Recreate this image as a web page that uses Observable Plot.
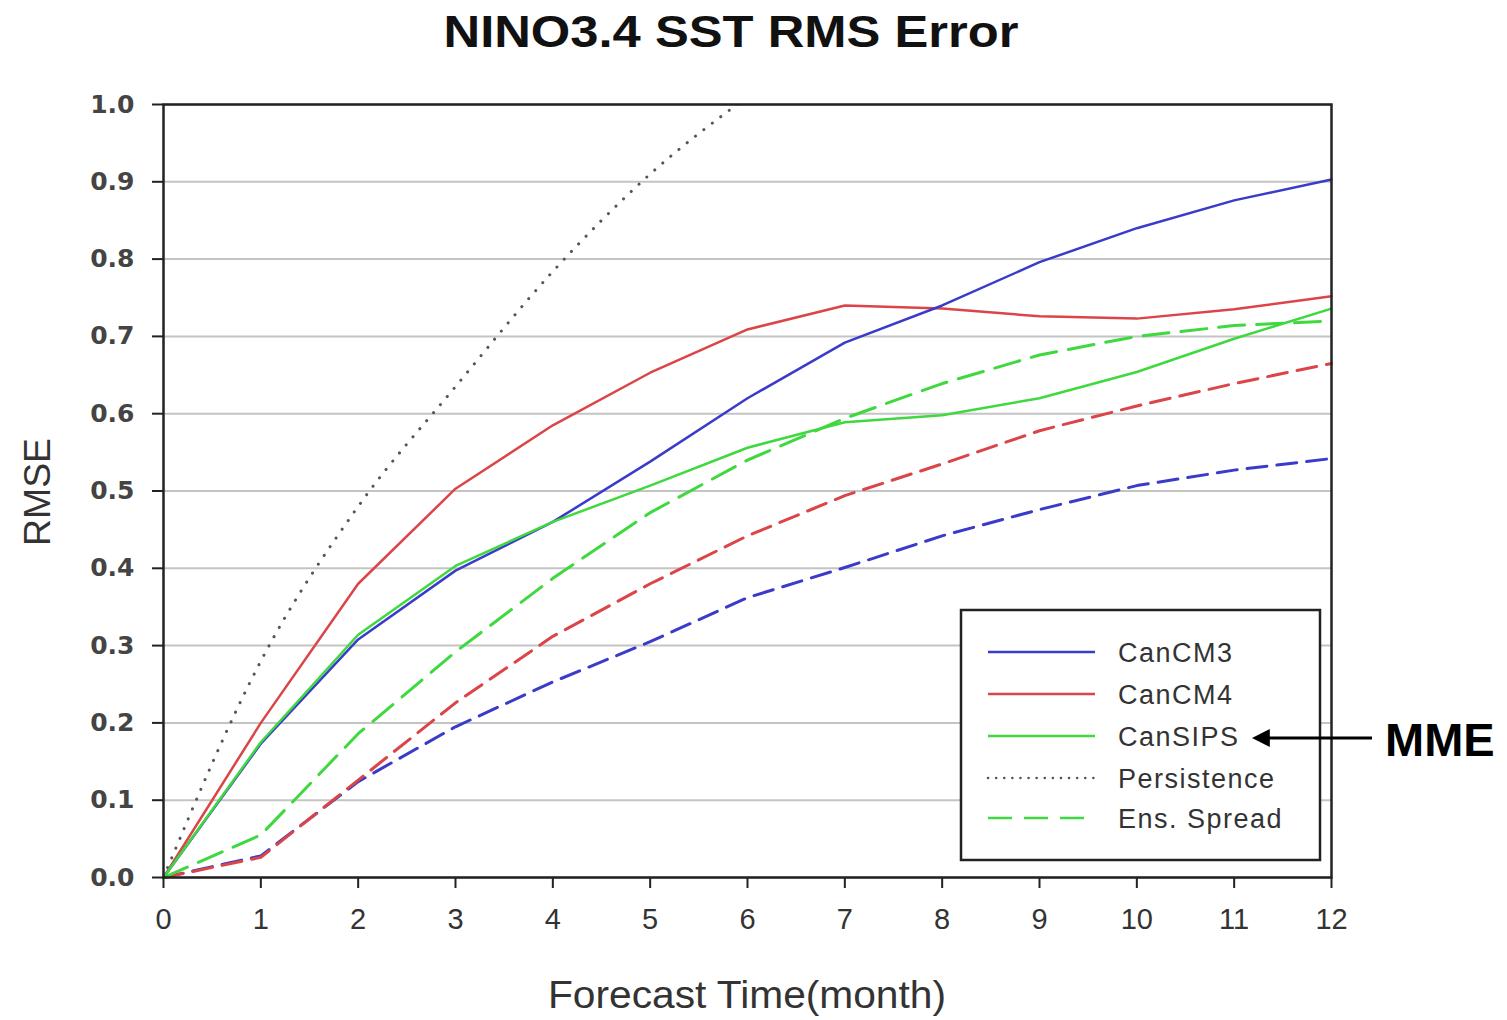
<!DOCTYPE html>
<html><head><meta charset="utf-8">
<script src="https://cdn.jsdelivr.net/npm/d3@7"></script>
<script src="https://cdn.jsdelivr.net/npm/@observablehq/plot@0.6"></script>
<style>body{margin:0;background:#fff} svg{display:block}</style>
</head><body><div id="chart"></div>
<script>
// ---- data ----
const months = [0,1,2,3,4,5,6,7,8,9,10,11,12];
const yTicks = [0,0.1,0.2,0.3,0.4,0.5,0.6,0.7,0.8,0.9,1.0];
const cancm3      = [0, 0.173, 0.308, 0.397, 0.460, 0.538, 0.620, 0.692, 0.740, 0.796, 0.840, 0.876, 0.903];
const cancm4      = [0, 0.200, 0.380, 0.503, 0.585, 0.653, 0.709, 0.740, 0.736, 0.726, 0.723, 0.735, 0.752];
const cansips     = [0, 0.175, 0.314, 0.403, 0.460, 0.507, 0.556, 0.589, 0.598, 0.620, 0.654, 0.697, 0.736];
const persistMonths = [0,1,2,3,4,5,6];
const persistence = [0, 0.280, 0.480, 0.635, 0.784, 0.910, 1.010];
const spreadCanSIPS = [0, 0.055, 0.186, 0.292, 0.387, 0.472, 0.540, 0.594, 0.639, 0.676, 0.700, 0.714, 0.720];
const spreadCanCM4  = [0, 0.026, 0.126, 0.226, 0.312, 0.380, 0.442, 0.494, 0.535, 0.578, 0.610, 0.639, 0.665];
const spreadCanCM3  = [0, 0.028, 0.124, 0.195, 0.253, 0.305, 0.362, 0.401, 0.442, 0.476, 0.507, 0.527, 0.542];
const legendLabels = ["CanCM3","CanCM4","CanSIPS","Persistence","Ens. Spread"];
const titleText = "NINO3.4 SST RMS Error";
const xLabel = "Forecast Time(month)";
const yLabel = "RMSE";
const annotation = "MME";

// ---- styles ----
const BLUE = "#3b3bc9", RED = "#db4548", GREEN = "#3fd83f", DOT = "#555";
const rows = (xs, vs) => xs.map((m, i) => ({month: m, value: vs[i]}));

const W = 1507, H = 1020;
const chart = Plot.plot({
  width: W, height: H,
  marginLeft: 163, marginRight: 176, marginTop: 104, marginBottom: 143,
  x: {domain: [0, 12]},
  y: {domain: [0, 1]},
  style: {fontFamily: "'Liberation Sans', Arial, sans-serif", background: "#fff", color: "#222"},
  marks: [
    Plot.gridY(yTicks, {stroke: "#c4c4c4", strokeOpacity: 1, strokeWidth: 2}),
    Plot.line(rows(months, spreadCanCM3), {x: "month", y: "value", stroke: BLUE, strokeWidth: 3, strokeDasharray: "20,10"}),
    Plot.line(rows(months, spreadCanCM4), {x: "month", y: "value", stroke: RED, strokeWidth: 3, strokeDasharray: "20,10"}),
    Plot.line(rows(months, spreadCanSIPS), {x: "month", y: "value", stroke: GREEN, strokeWidth: 3, strokeDasharray: "26,12"}),
    Plot.line(rows(persistMonths, persistence), {x: "month", y: "value", stroke: DOT, strokeWidth: 3, strokeDasharray: "0.1,10.5", strokeLinecap: "round", curve: "monotone-x", clip: true}),
    Plot.line(rows(months, cancm4), {x: "month", y: "value", stroke: RED, strokeWidth: 2.5}),
    Plot.line(rows(months, cancm3), {x: "month", y: "value", stroke: BLUE, strokeWidth: 2.5}),
    Plot.line(rows(months, cansips), {x: "month", y: "value", stroke: GREEN, strokeWidth: 2.5}),
    Plot.axisX({ticks: months, tickSize: 11, tickPadding: 20, fontSize: 29, label: null, tickFormat: d => String(d), fill: "#333", stroke: "#222", strokeWidth: 2}),
    Plot.axisY({ticks: yTicks, tickSize: 11, tickPadding: 18, fontSize: 25, label: null, tickFormat: d3.format(".1f"), fontWeight: "bold", fontFamily: "'DejaVu Sans', sans-serif", fill: "#444", stroke: "#222", strokeWidth: 2}),
    Plot.frame({stroke: "#222", strokeWidth: 2.5})
  ]
});
document.getElementById("chart").appendChild(chart);

const svg = d3.select(chart);

// title
svg.append("text").attr("x", 731).attr("y", 47).attr("text-anchor", "middle")
  .attr("font-family", "'Liberation Sans', Arial, sans-serif").attr("font-size", 44).attr("font-weight", "bold")
  .attr("fill", "#111").attr("textLength", 575).attr("lengthAdjust", "spacingAndGlyphs").text(titleText);
// x label
svg.append("text").attr("x", 747).attr("y", 1008).attr("text-anchor", "middle")
  .attr("font-family", "'Liberation Sans', Arial, sans-serif").attr("font-size", 38)
  .attr("fill", "#333").attr("textLength", 398).attr("lengthAdjust", "spacingAndGlyphs").text(xLabel);
// y label
svg.append("text").attr("transform", "translate(50,492) rotate(-90)").attr("text-anchor", "middle")
  .attr("font-family", "'Liberation Sans', Arial, sans-serif").attr("font-size", 36)
  .attr("fill", "#333").attr("textLength", 108).attr("lengthAdjust", "spacingAndGlyphs").text(yLabel);

// legend
const lg = svg.append("g");
lg.append("rect").attr("x", 961).attr("y", 610).attr("width", 359).attr("height", 250)
  .attr("fill", "#fff").attr("stroke", "#222").attr("stroke-width", 2.5);
const legendStyles = [
  {stroke: BLUE, dash: null, w: 2.5},
  {stroke: RED, dash: null, w: 2.5},
  {stroke: GREEN, dash: null, w: 2.5},
  {stroke: DOT, dash: "0.1,8", w: 2.5, cap: "round"},
  {stroke: GREEN, dash: "24,12", w: 2.5}
];
const rowY = [652, 694, 736, 778, 818];
legendLabels.forEach((lab, i) => {
  const st = legendStyles[i];
  const ln = lg.append("line").attr("x1", 988).attr("x2", 1095).attr("y1", rowY[i]).attr("y2", rowY[i])
    .attr("stroke", st.stroke).attr("stroke-width", st.w);
  if (st.dash) ln.attr("stroke-dasharray", st.dash);
  if (st.cap) ln.attr("stroke-linecap", st.cap);
  lg.append("text").attr("x", 1118).attr("y", rowY[i]).attr("dy", "0.36em").attr("text-anchor", "start")
    .attr("font-family", "'Liberation Sans', Arial, sans-serif").attr("font-size", 27)
    .attr("letter-spacing", 1.5).attr("fill", "#333").text(lab);
});

// MME annotation arrow
const defs = svg.append("defs");
defs.append("marker").attr("id", "ah").attr("viewBox", "0 0 10 10").attr("refX", 1).attr("refY", 5)
  .attr("markerWidth", 6).attr("markerHeight", 6).attr("orient", "auto-start-reverse")
  .append("path").attr("d", "M0,0 L10,5 L0,10 z").attr("fill", "#000");
svg.append("line").attr("x1", 1372).attr("y1", 738).attr("x2", 1268).attr("y2", 738)
  .attr("stroke", "#000").attr("stroke-width", 3).attr("marker-end", "url(#ah)");
svg.append("text").attr("x", 1385).attr("y", 756).attr("text-anchor", "start")
  .attr("font-family", "'Liberation Sans', Arial, sans-serif").attr("font-size", 47).attr("font-weight", "bold")
  .attr("fill", "#000").text(annotation);
</script>
</body></html>
